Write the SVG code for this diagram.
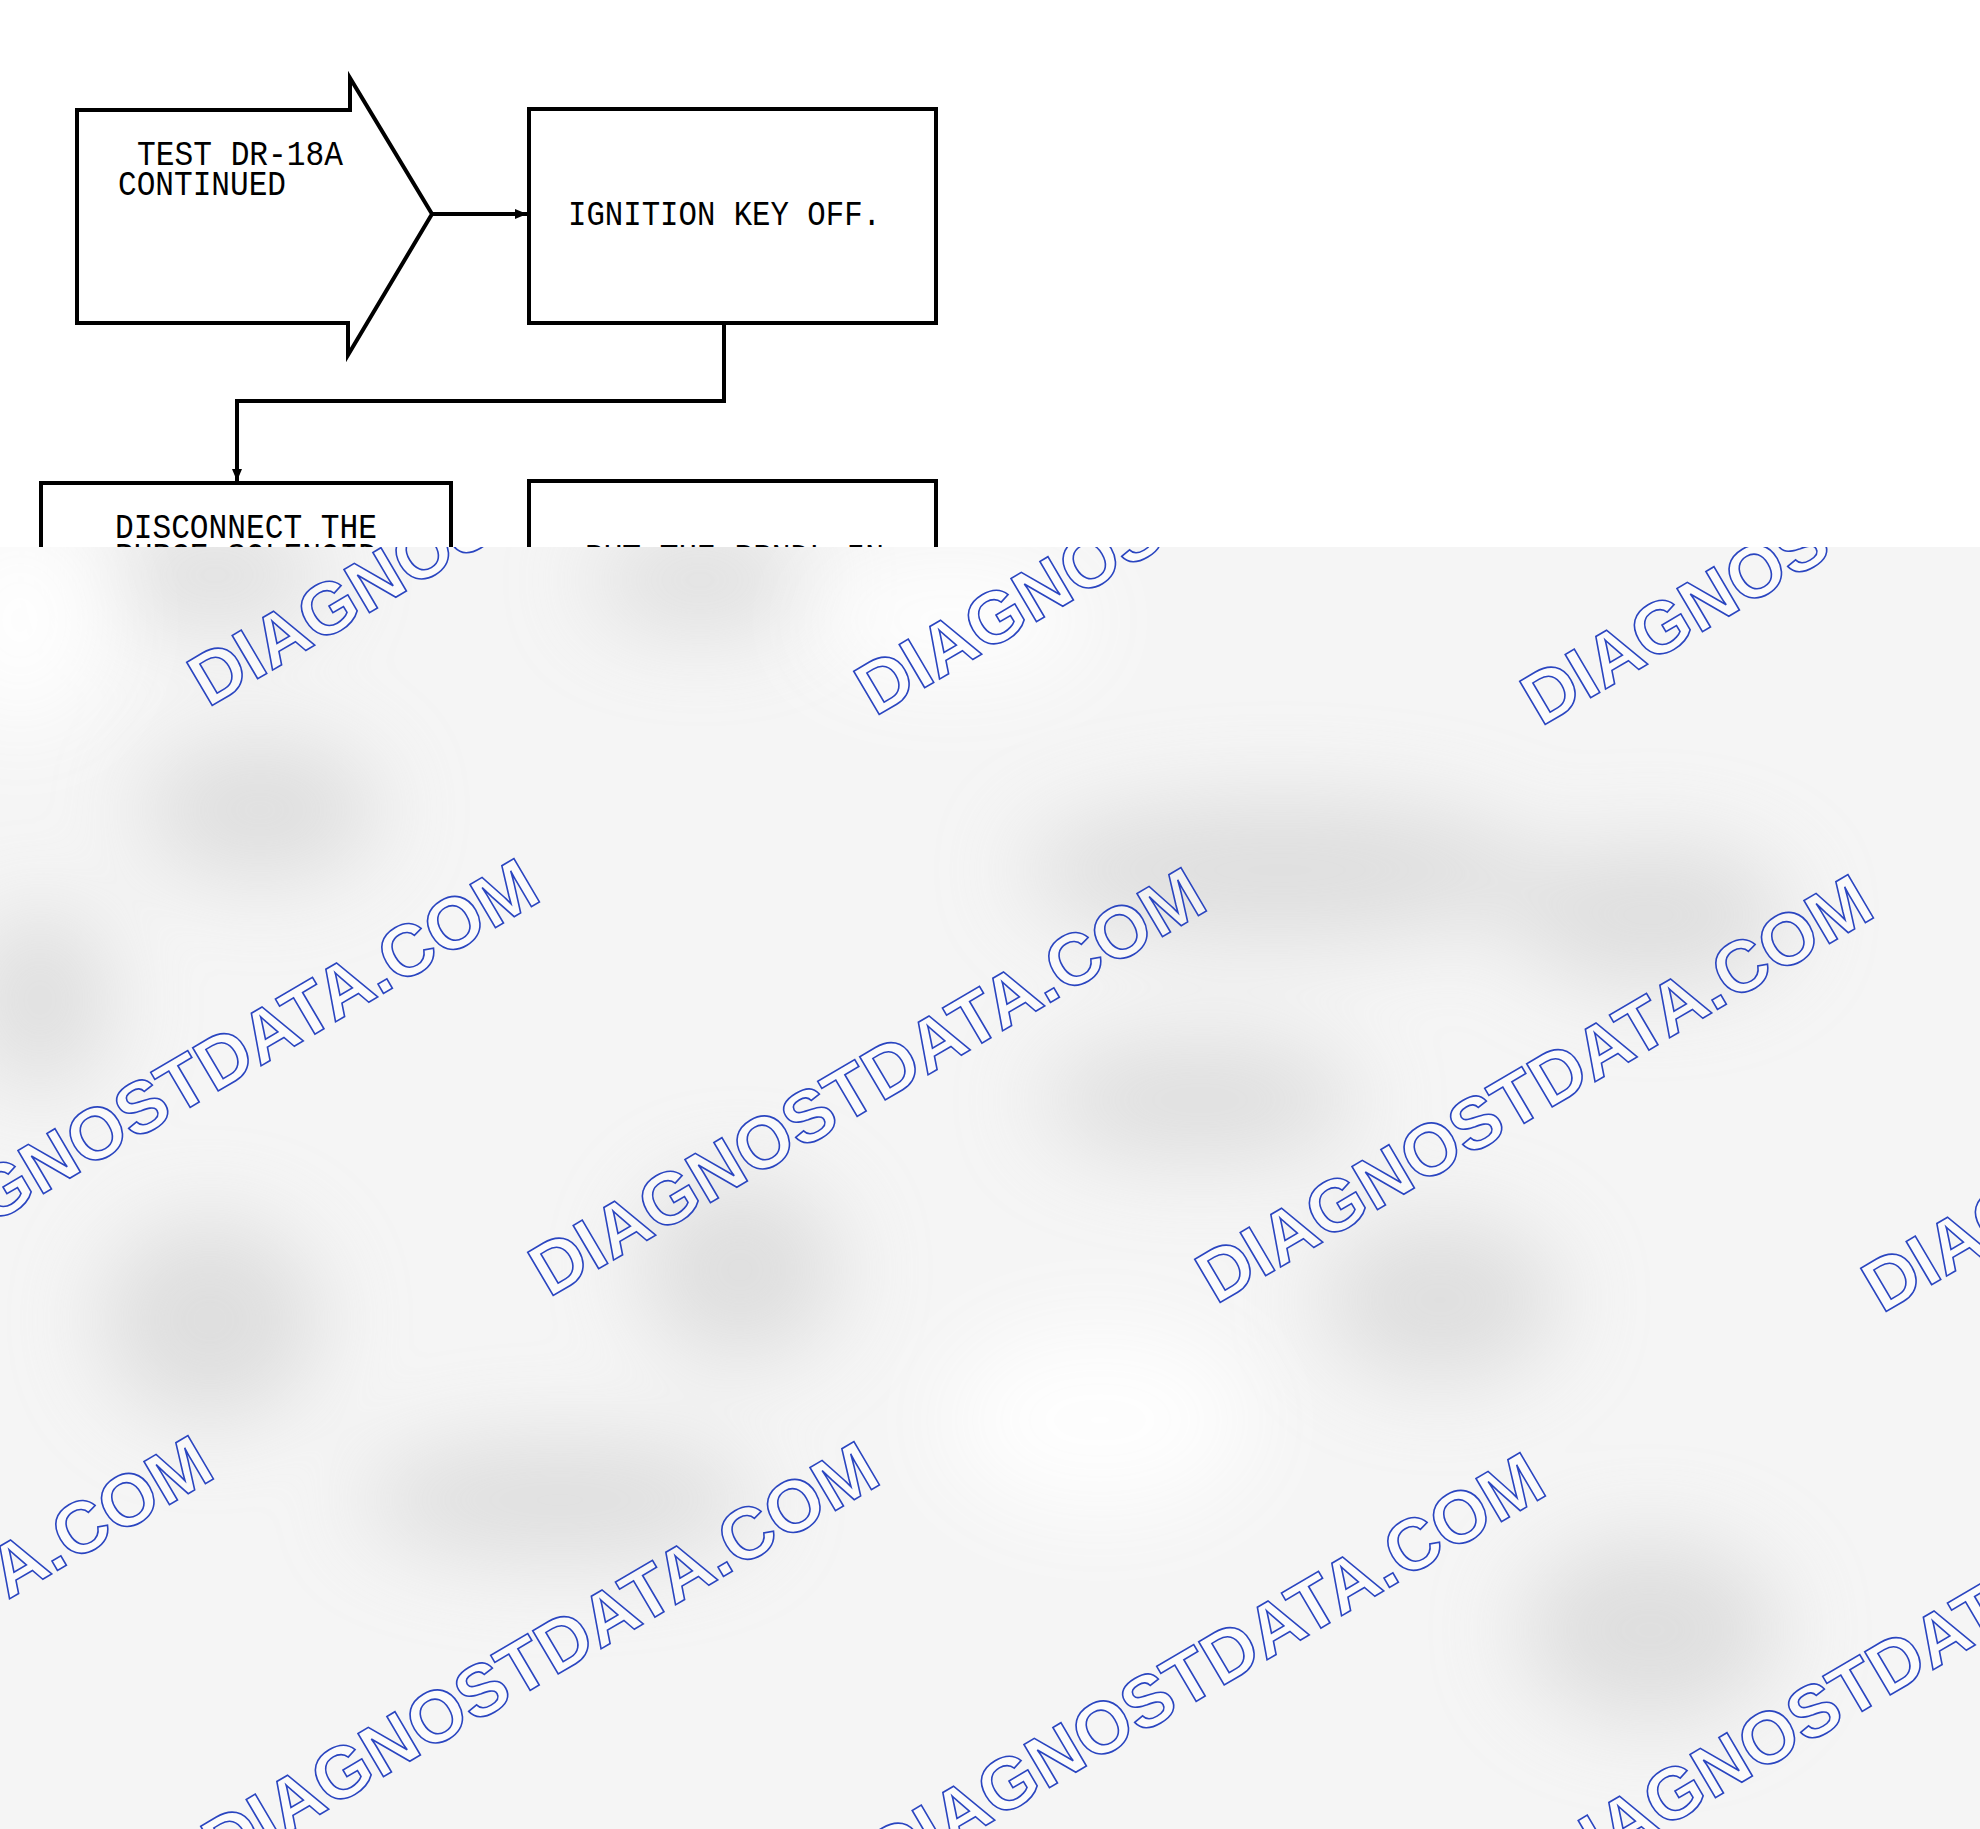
<svg xmlns="http://www.w3.org/2000/svg" width="1980" height="1829" viewBox="0 0 1980 1829">
<style>
.ln{fill:none;stroke:#000;stroke-width:4;stroke-linejoin:miter}
.bx{fill:#fff;stroke:#000;stroke-width:4}
.t{font-family:"Liberation Mono","DejaVu Sans Mono",monospace;font-size:35px;fill:#000}
.wm{font-family:"Liberation Sans",Arial,sans-serif;font-weight:bold;font-size:73px;fill:#fff;fill-opacity:0.55;stroke:#2a45c0;stroke-width:1.6}
</style>
<defs>
<marker id="ah" viewBox="0 0 12 10" refX="12" refY="5" markerWidth="12" markerHeight="10" markerUnits="userSpaceOnUse" orient="auto">
<path d="M0,0 L12,5 L0,10 Z" fill="#000"/>
</marker>
<clipPath id="wmclip"><rect x="0" y="547" width="1980" height="1282"/></clipPath>
<clipPath id="bgclip"><rect x="0" y="547" width="1980" height="1282"/></clipPath>
<filter id="blur" x="-50%" y="-50%" width="200%" height="200%"><feGaussianBlur stdDeviation="45"/></filter>
</defs>
<rect width="1980" height="1829" fill="#fff"/>

<g id="node-start">
<polygon class="bx" points="77,110 350,110 350,78 432,214 348,355 348,323 77,323"/>
<text class="t" x="137" y="165" textLength="206" lengthAdjust="spacingAndGlyphs">TEST DR-18A</text>
<text class="t" x="118" y="195" textLength="168" lengthAdjust="spacingAndGlyphs">CONTINUED</text>
</g>
<g id="node-ignition">
<rect class="bx" x="529" y="109" width="407" height="214"/>
<text class="t" x="568" y="225" textLength="313" lengthAdjust="spacingAndGlyphs">IGNITION KEY OFF.</text>
</g>
<g id="node-disconnect">
<rect class="bx" x="41" y="483" width="410" height="300"/>
<text class="t" x="115" y="538" textLength="262" lengthAdjust="spacingAndGlyphs">DISCONNECT THE</text>
<text class="t" x="115" y="567" textLength="262" lengthAdjust="spacingAndGlyphs">PURGE SOLENOID</text>
</g>
<g id="node-put">
<rect class="bx" x="529" y="481" width="407" height="300"/>
<text class="t" x="585" y="568" textLength="299" lengthAdjust="spacingAndGlyphs">PUT THE PRNDL IN</text>
</g>
<g id="connectors">
<path class="ln" d="M432,214 L527,214" marker-end="url(#ah)"/>
<path class="ln" d="M724,323 L724,401 L237,401 L237,481" marker-end="url(#ah)"/>
</g>

<g id="watermark-layer">
<rect x="0" y="547" width="1980" height="1282" fill="#f5f5f5"/>
<g clip-path="url(#bgclip)">
<g filter="url(#blur)" fill="#d4d4d4" opacity="0.7">
<ellipse cx="215" cy="575" rx="110" ry="50"/>
<ellipse cx="700" cy="580" rx="110" ry="50"/>
<ellipse cx="260" cy="810" rx="120" ry="70"/>
<ellipse cx="1280" cy="870" rx="260" ry="70"/>
<ellipse cx="1650" cy="915" rx="140" ry="70"/>
<ellipse cx="210" cy="1320" rx="110" ry="100"/>
<ellipse cx="740" cy="1270" rx="100" ry="90"/>
<ellipse cx="1440" cy="1300" rx="120" ry="80"/>
<ellipse cx="1650" cy="1630" rx="130" ry="90"/>
<ellipse cx="560" cy="1500" rx="200" ry="60"/>
<ellipse cx="1200" cy="1100" rx="160" ry="60"/>
<ellipse cx="40" cy="1000" rx="70" ry="90"/>
</g>
<g filter="url(#blur)" fill="#fff" opacity="0.9">
<ellipse cx="20" cy="620" rx="90" ry="110"/>
<ellipse cx="950" cy="620" rx="140" ry="60"/>
<ellipse cx="1100" cy="1420" rx="150" ry="90"/>
</g>
</g>
<g clip-path="url(#wmclip)">
<text class="wm" transform="translate(208,708) rotate(-30.5)">DIAGNOSTDATA.COM</text>
<text class="wm" transform="translate(875,717) rotate(-30.5)">DIAGNOSTDATA.COM</text>
<text class="wm" transform="translate(1541,727) rotate(-30.5)">DIAGNOSTDATA.COM</text>
<text class="wm" transform="translate(-118,1289) rotate(-30.5)">DIAGNOSTDATA.COM</text>
<text class="wm" transform="translate(549,1298) rotate(-30.5)">DIAGNOSTDATA.COM</text>
<text class="wm" transform="translate(1216,1305) rotate(-30.5)">DIAGNOSTDATA.COM</text>
<text class="wm" transform="translate(1882,1314) rotate(-30.5)">DIAGNOSTDATA.COM</text>
<text class="wm" transform="translate(-444,1866) rotate(-30.5)">DIAGNOSTDATA.COM</text>
<text class="wm" transform="translate(222,1872) rotate(-30.5)">DIAGNOSTDATA.COM</text>
<text class="wm" transform="translate(888,1883) rotate(-30.5)">DIAGNOSTDATA.COM</text>
<text class="wm" transform="translate(1554,1893) rotate(-30.5)">DIAGNOSTDATA.COM</text>
</g>
</g>
</svg>
